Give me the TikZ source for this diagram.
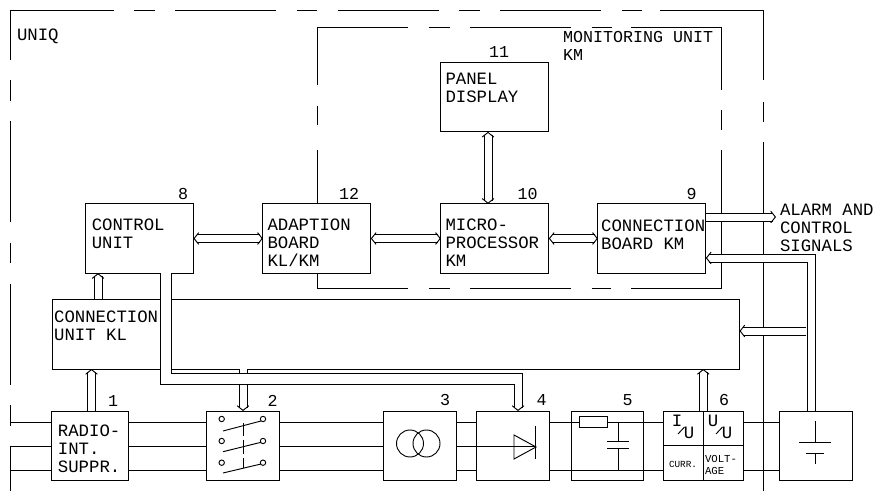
\documentclass[tikz,border=0pt]{standalone}
\usepackage{fontspec}
\setmainfont{Liberation Mono}
\usetikzlibrary{arrows.meta, positioning, calc, decorations.markings}

\begin{document}
\begin{tikzpicture}[
  x=0.75pt, y=-0.75pt, line width=0.7pt,
  box/.style={draw, outer sep=0pt, inner sep=0pt, minimum height=51.75pt, minimum width=54.75pt},
  bigbox/.style={box, minimum height=52pt, minimum width=81pt},
  txt/.style={inner sep=0pt, outer sep=0pt, align=left, font=\fontsize{13}{13.5}\selectfont},
  num/.style={inner sep=0pt, font=\fontsize{12.5}{13}\selectfont},
  tiny/.style={txt, font=\fontsize{8}{9.5}\selectfont},
  hd/.tip={Straight Barb[length=3.5pt, width=8.8pt, line width=0.7pt]},
  core/.style={draw=white, line width=5.6pt},
  headend/.style={postaction={decorate, decoration={markings, mark=at position 1 with {\arrow{hd}}}}},
  headstart/.style={postaction={decorate, decoration={markings, mark=at position 0 with {\arrowreversed{hd}}}}},
  oneway/.style={shorten >=2.4pt, shorten <=0.35pt, headend},
  twoway/.style={shorten >=2.4pt, shorten <=2.4pt, headend, headstart},
  hpipe/.style={draw=none, preaction={core},
    postaction={draw=black, transform canvas={yshift=3pt}},
    postaction={draw=black, transform canvas={yshift=-3pt}}},
  vpipe/.style={draw=none, preaction={core},
    postaction={draw=black, transform canvas={xshift=3pt}},
    postaction={draw=black, transform canvas={xshift=-3pt}}},
  dashframe/.style={dash pattern=on 15.4pt off 15.4pt on 75.75pt off 15.4pt}
]
  \useasboundingbox (0,0) rectangle (877,491);

  % frames
  \draw (10,60) -- (10,10) -- (114,10);
  \draw[dashframe] (134,10) -- (660,10);
  \draw[dashframe] (10,80) -- (10,491);
  \draw (660,10) -- (763.5,10) -- (763.5,80);
  \draw (763.5,102) -- (763.5,122);
  \draw (763.5,142) -- (763.5,491);

  % upper row
  \node[bigbox] (ctrl) at (139.5,238.5) {};
  \node[bigbox, right=52pt of ctrl] (adapt) {};
  \node[bigbox, right=52.5pt of adapt] (micro) {};
  \node[bigbox, right=36.75pt of micro] (board) {};
  \node[bigbox, above=54pt of micro] (panel) {};
  \node[box, minimum width=515.25pt, minimum height=52.5pt] (kl) at (396,334) {};

  \draw (317.5,85) -- (317.5,27.5) -- (408,27.5);
  \draw[dashframe] (429,27.5) -- (631,27.5);
  \draw (631,27.5) -- (721.5,27.5) -- (721.5,90);
  \draw (721.5,110) -- (721.5,130);
  \draw (721.5,150) -- (721.5,288) -- (631,288);
  \draw[dashframe] (429,288) -- (611,288);
  \draw (408,288) -- (317.5,288) -- (adapt.south -| 317.5,0);
  \draw (317.5,106) -- (317.5,125);
  \draw (317.5,150) -- (adapt.north -| 317.5,0);

  % lower row
  \node[box] (sw) at (242.75,445.5) {};
  \node[box, minimum width=57.75pt, left=58pt of sw] (rad) {};
  \node[box, right=78pt of sw] (tr) {};
  \node[box, right=15pt of tr] (rect) {};
  \node[box, minimum width=54pt, right=16.5pt of rect] (filt) {};
  \node[box, minimum width=60pt, right=15pt of filt] (conv) {};
  \node[box, right=27pt of conv] (batt) {};

  % supply lines
  \coordinate (inl) at (10,0);
  \foreach \y in {422,446.5,470}
    \draw (inl |- 0,\y) -- (rad.west |- 0,\y);
  \foreach \a/\b in {rad/sw, sw/tr, tr/rect}
    \foreach \y in {422,446.5,470}
      \draw (\a.east |- 0,\y) -- (\b.west |- 0,\y);
  \foreach \a/\b in {rect/filt, filt/conv, conv/batt}
    \foreach \y in {422,470}
      \draw (\a.east |- 0,\y) -- (\b.west |- 0,\y);

  % signal arrows
  \coordinate (alarmtip) at (776,217);
  \coordinate (tee) at (806.4,331);
  \draw[hpipe, twoway] (ctrl) -- (adapt);
  \draw[hpipe, twoway] (adapt) -- (micro);
  \draw[hpipe, twoway] (micro) -- (board);
  \draw[vpipe, twoway] (488,0 |- micro.north) -- (488,0 |- panel.south);
  \draw[hpipe, oneway] (board.east |- alarmtip) -- (alarmtip);
  \draw[vpipe, oneway] (rad.north -| 91.5,0) -- (kl.south -| 91.5,0);
  \draw[vpipe, oneway] (kl.north -| 98,0) -- (ctrl.south -| 98,0);
  \draw[vpipe, oneway] (conv.north) -- (conv.north |- kl.south);
  \draw[vpipe, oneway] (kl.south -| 243,0) -- (sw.north -| 243,0);

  % battery feed with its branch
  \draw[core] (batt.north -| 811,0) -- (811,258) -- (708,258);
  \draw (batt.north -| 807,0) -- (807,262) -- (708.5,262);
  \draw (batt.north -| 815,0) -- (815,254) -- (708.5,254);
  \path[headend] (720,258) -- (board.east |- 0,258);
  \draw[hpipe, oneway] (tee) -- (kl.east |- tee);

  % control line to the rectifier
  \draw[core, line width=7.4pt] (ctrl.south -| 165.7,0) -- (165.7,379) -- (518,379) -- (518,407);
  \draw (ctrl.south -| 160.5,0) -- (160.5,384) -- (514,384) -- (514,408);
  \draw (ctrl.south -| 171,0) -- (171,373.5) -- (522,373.5) -- (522,408);
  \path[headend] (518,395) -- (518,0 |- rect.north);

  % labels
  \node[txt, below right=11.3pt and 4.7pt of ctrl.north west] (ctrltxt) {CONTROL\\UNIT};
  \node[txt, below right=11.3pt and 3.5pt of adapt.north west] (adapttxt) {ADAPTION\\BOARD\\KL/KM};
  \node[txt, below right=11.3pt and 3.5pt of micro.north west] (microtxt) {MICRO-\\PROCESSOR\\KM};
  \node[txt, below right=11.8pt and 2.5pt of board.north west] (boardtxt) {CONNECTION\\BOARD KM};
  \node[txt, below right=8.2pt and 3.5pt of panel.north west] (paneltxt) {PANEL\\DISPLAY};
  \node[txt, below right=9.2pt and 1.2pt of kl.north west] (kltxt) {CONNECTION\\UNIT KL};
  \node[txt, below right=10.8pt and 4.5pt of rad.north west] (radtxt) {RADIO-\\INT.\\SUPPR.};
  \node[txt, anchor=north west] (uniq) at (17,28.5) {UNIQ};
  \node[txt, anchor=north west, font=\fontsize{12.5}{13.5}\selectfont] (montxt) at (563,31) {MONITORING UNIT\\KM};
  \node[txt, anchor=north west] (alarm) at (780,204.5) {ALARM AND\\CONTROL\\SIGNALS};
  \foreach \x/\y/\t in {113/401/1, 272.5/401/2, 445/400.5/3, 541.5/400.5/4, 627.5/400.5/5, 724/400.5/6,
      183/194/8, 691.5/194/9, 527.5/194/10, 499/52/11, 349/194/12}
    \node[num] (n\t) at (\x,\y) {\t};

  % transformer
  \draw (410,443.5) circle (13.5);
  \draw (426.5,443.5) circle (13.5);

  % switch
  \foreach \y/\ya/\yb in {419/431/421, 441/451.7/442.3, 462.7/473/464} {
    \draw (221.7,\y) circle (2.7);
    \draw (263,\y) circle (2.7);
    \draw (223,\ya) -- (261,\yb);
  }
  \draw[dash pattern=on 10pt off 3pt] (243.3,423) -- (243.3,468);

  % rectifier
  \draw (rect.west |- 0,446.5) -- (536,446.5);
  \draw (514,435) -- (514,459) -- (536,447) -- cycle;
  \draw (535.5,426) -- (535.5,459);

  % filter
  \draw (filt.west |- 0,422) -- (579,422);
  \draw (607,422) -- (filt.east |- 0,422);
  \draw (579,416) rectangle (607,427);
  \draw (filt.west |- 0,470) -- (filt.east |- 0,470);
  \draw (618,422) -- (618,441) (618,448) -- (618,470);
  \draw (607,441) -- (629,441) (607,448) -- (629,448);

  % converter
  \draw (conv.north) -- (conv.south);
  \draw (conv.west |- 0,445) -- (conv.east |- 0,445);
  \node[txt] (iua) at (677,421) {I};
  \node[txt] (iub) at (689,433) {U};
  \node[txt] (uua) at (713,421) {U};
  \node[txt] (uub) at (727,433) {U};
  \draw (678,434) -- (684.5,427);
  \draw (716,434) -- (722.5,427);
  \node[tiny, font=\fontsize{7}{8}\selectfont] (curr) at (683,464) {CURR.};
  \node[tiny, anchor=north west] (volt) at (705,455) {VOLT-\\AGE};

  % battery
  \draw (815,421) -- (815,442) (815,453) -- (815,464);
  \draw (799,442) -- (831,442) (806,453) -- (824,453);
\end{tikzpicture}
\end{document}
